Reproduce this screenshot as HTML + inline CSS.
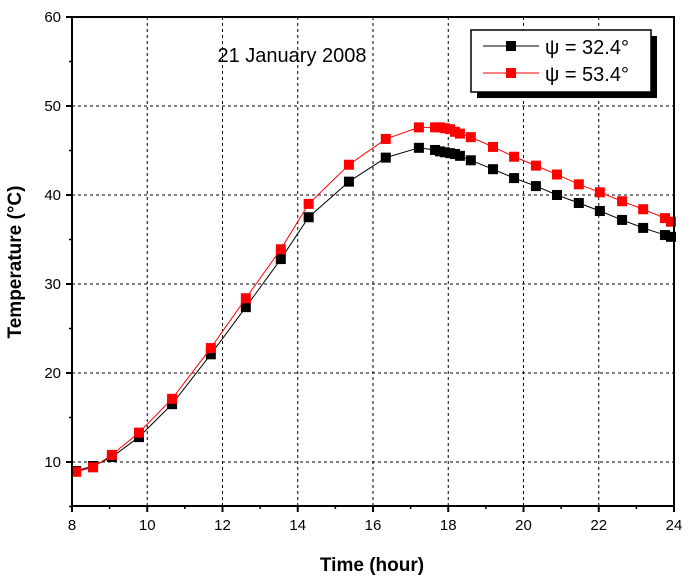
<!DOCTYPE html>
<html><head><meta charset="utf-8"><style>
body{margin:0;background:#fff}
svg text{font-family:"Liberation Sans",Arial,sans-serif}
</style></head><body>
<svg id="chart" width="691" height="579" viewBox="0 0 691 579" xmlns="http://www.w3.org/2000/svg">
<g id="grid"></g>
<g id="series"></g>
<rect x="72" y="17" width="602" height="489" fill="none" stroke="#000" stroke-width="2"/>
<g id="axes"></g>
<text x="292" y="62" font-size="20" text-anchor="middle">21 January 2008</text>
<g>
<rect x="477" y="36" width="180" height="62" fill="#000"/>
<rect x="471" y="30" width="180" height="62" fill="#fff" stroke="#000" stroke-width="1.5"/>
<g>
<line x1="483" y1="46" x2="539" y2="46" stroke="#000" stroke-width="1"/>
<rect x="506" y="41" width="10" height="10" fill="#000"/>
<text x="545" y="54" font-size="20">ψ = 32.4°</text></g>
<g>
<line x1="483" y1="73" x2="539" y2="73" stroke="#f00" stroke-width="1"/>
<rect x="506" y="68" width="10" height="10" fill="#f00"/>
<text x="545" y="81" font-size="20">ψ = 53.4°</text></g>
</g>
<text x="372" y="571" font-size="19" font-weight="bold" text-anchor="middle">Time (hour)</text>
<text transform="translate(21,262) rotate(-90)" font-size="19" font-weight="bold" text-anchor="middle">Temperature (°C)</text>
</svg>
<script>
const hours=[8.11,8.56,9.06,9.78,10.66,11.69,12.62,13.55,14.29,15.36,16.34,17.22,17.65,17.78,17.91,18.05,18.18,18.31,18.6,19.19,19.75,20.33,20.89,21.47,22.03,22.62,23.18,23.76,23.92];
const temps32=[8.99,9.55,10.56,12.8,16.5,22.1,27.4,32.8,37.5,41.5,44.2,45.3,45.06,44.9,44.8,44.7,44.6,44.4,43.9,42.9,41.9,41.0,40.0,39.1,38.2,37.2,36.3,35.5,35.3];
const temps53=[8.9,9.4,10.8,13.3,17.1,22.8,28.4,33.9,39.0,43.4,46.3,47.6,47.6,47.6,47.5,47.4,47.1,46.9,46.5,45.4,44.3,43.3,42.3,41.2,40.3,39.3,38.4,37.4,37.0];
const xTicks=[8,10,12,14,16,18,20,22,24];
const yTicks=[10,20,30,40,50,60];
const NS="http://www.w3.org/2000/svg";
const X=h=>72+(h-8)*602/16;
const Y=t=>17+(60-t)*8.9;
function mk(tag,attrs,parent){const e=document.createElementNS(NS,tag);for(const k in attrs)e.setAttribute(k,attrs[k]);parent.appendChild(e);return e;}
const grid=document.getElementById('grid'),axes=document.getElementById('axes'),ser=document.getElementById('series');
xTicks.forEach(v=>{
 const x=X(v);
 if(v>8&&v<24){const g=mk('line',{x1:x,y1:17,x2:x,y2:506,stroke:'#000','stroke-dasharray':'3,3','stroke-width':1},grid);
 
 }
 mk('line',{x1:x,y1:506,x2:x,y2:512,stroke:'#000','stroke-width':2},axes);
 const t=mk('text',{x:x,y:530,'font-size':15,'text-anchor':'middle'},axes);t.textContent=v;
 
 
 if(v<24)mk('line',{x1:X(v+1),y1:506,x2:X(v+1),y2:509,stroke:'#000','stroke-width':1.5},axes);
});
yTicks.forEach(v=>{
 const y=Y(v);
 if(v<60){const g=mk('line',{x1:72,y1:y,x2:674,y2:y,stroke:'#000','stroke-dasharray':'3,3','stroke-width':1},grid);
 
 }
 mk('line',{x1:66,y1:y,x2:72,y2:y,stroke:'#000','stroke-width':2},axes);
 const t=mk('text',{x:61,y:y+5,'font-size':15,'text-anchor':'end'},axes);t.textContent=v;
 
 
 mk('line',{x1:69,y1:Y(v-5),x2:72,y2:Y(v-5),stroke:'#000','stroke-width':1.5},axes);
});
[[temps32,'#000','series-psi-32'],[temps53,'#f00','series-psi-53']].forEach(([d,c,n])=>{
 const g=mk('g',{},ser);
 
 
 const pl=mk('polyline',{points:hours.map((h,i)=>X(h)+','+Y(d[i])).join(' '),fill:'none',stroke:c,'stroke-width':1},g);
 
 
 hours.forEach((h,i)=>{const r=mk('rect',{x:X(h)-5,y:Y(d[i])-5,width:10,height:10,fill:c},g);
 
 });
});
</script>
</body></html>
